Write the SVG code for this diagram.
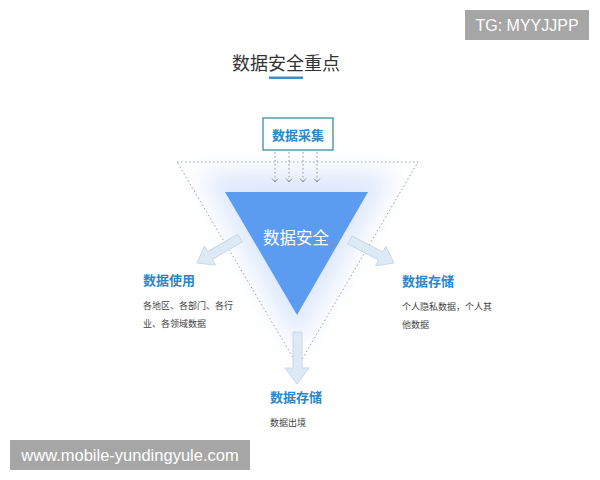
<svg xmlns="http://www.w3.org/2000/svg" width="600" height="480" viewBox="0 0 600 480">
<defs>
<filter id="glow" x="-40%" y="-40%" width="180%" height="180%"><feGaussianBlur stdDeviation="13"/></filter>
<style>
.cjk{font-family:"Noto Sans CJK SC","Noto Sans",sans-serif}
.lbl{font-size:13px;font-weight:bold;fill:#2c86c7}
.desc{font-size:9px;fill:#444}
.dot{fill:none;stroke:#8e98a4;stroke-width:1;stroke-dasharray:1.5 2.5}
.fat{fill:#dde9f5;stroke:#c6d8ea;stroke-width:1}
.wm{fill:#a6a6a6}
.wmt{font-family:"Liberation Sans",Arial,sans-serif;fill:#fff}
</style>
</defs>
<rect width="600" height="480" fill="#fff"/>
<g id="title">
<text class="cjk" x="286" y="70" font-size="18" fill="#333" text-anchor="middle">数据安全重点</text>
<rect x="269" y="76.5" width="34" height="2.5" fill="#3b8fcf"/>
</g>
<g id="outer">
<polygon class="dot" points="177,162 418,162 298,366"/>
</g>
<g id="core">
<polygon points="200,172 395,172 297,345" fill="#dde8fb" filter="url(#glow)"/>
<polygon points="225,192 368,192 297,315" fill="#5b9cf1"/>
<text class="cjk" x="296" y="244" font-size="16.5" fill="#fff" text-anchor="middle">数据安全</text>
</g>
<g id="collect">
<rect x="263" y="118" width="70" height="32" fill="#fff" stroke="#3d8ba6" stroke-width="1.3"/>
<text class="cjk lbl" x="298" y="140" text-anchor="middle">数据采集</text>
</g>
<g id="use">
<text class="cjk lbl" x="143" y="285">数据使用</text>
<text class="cjk desc" x="143" y="309">各地区、各部门、各行</text>
<text class="cjk desc" x="143" y="327">业、各领域数据</text>
</g>
<g id="store-right">
<text class="cjk lbl" x="402" y="286">数据存储</text>
<text class="cjk desc" x="402" y="310">个人隐私数据，个人其</text>
<text class="cjk desc" x="402" y="328">他数据</text>
</g>
<g id="store-bottom">
<text class="cjk lbl" x="270" y="402">数据存储</text>
<text class="cjk desc" x="270" y="426">数据出境</text>
</g>
<g id="connectors">
<g class="dot">
<line x1="275" y1="152" x2="275" y2="182"/>
<line x1="289" y1="152" x2="289" y2="182"/>
<line x1="303" y1="152" x2="303" y2="182"/>
<line x1="317" y1="152" x2="317" y2="182"/>
</g>
<g fill="none" stroke="#8e98a4" stroke-width="1">
<polyline points="272,178.5 275,182 278,178.5"/>
<polyline points="286,178.5 289,182 292,178.5"/>
<polyline points="300,178.5 303,182 306,178.5"/>
<polyline points="314,178.5 317,182 320,178.5"/>
</g>
<polygon class="fat" points="242.3,241.9 212.3,259.4 215.5,265 197,263 204.5,246 207.7,251.6 237.7,234.1"/>
<polygon class="fat" points="347.9,244 378.6,260 375.6,265.8 394,263 385.8,246.2 382.8,252 352.1,236"/>
<polygon class="fat" points="293,332 302,332 302,368 309,368 297,384 285,368 293,368"/>
</g>
<g id="watermarks">
<rect class="wm" x="465" y="10" width="124" height="30"/>
<text class="wmt" x="527" y="31" font-size="16" text-anchor="middle">TG: MYYJJPP</text>
<rect class="wm" x="10" y="440" width="240" height="30"/>
<text class="wmt" x="130" y="461" font-size="16.5" text-anchor="middle">www.mobile-yundingyule.com</text>
</g>
</svg>
